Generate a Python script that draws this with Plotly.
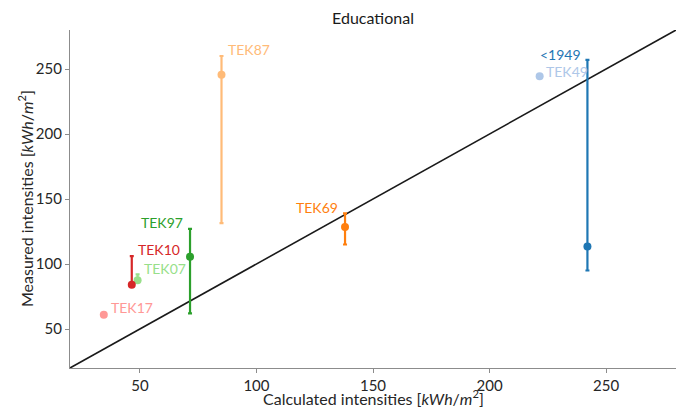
import plotly.graph_objects as go

# Building categories and their intensities (kWh/m2)
labels = ["<1949", "TEK49", "TEK69", "TEK87", "TEK97", "TEK07", "TEK10", "TEK17"]
calculated = [242, 221.5, 138, 85, 71.5, 49, 46.5, 34.5]
measured = [113.5, 244.5, 128.5, 245.5, 105.5, 87.5, 84, 61]
measured_high = [257, None, 139, 260, 127, 92, 106, None]
measured_low = [95, None, 115, 131.5, 62, 87.5, 84, None]

colors = ["#1f77b4", "#aec7e8", "#ff7f0e", "#ffbb78",
          "#2ca02c", "#98df8a", "#d62728", "#ff9896"]

# label placement relative to each marker: (xshift px, yshift px, xanchor)
label_offsets = {
    "<1949": (-49, 192, "left"),
    "TEK49": (4, 5, "left"),
    "TEK69": (-5, 19, "right"),
    "TEK87": (4, 25, "left"),
    "TEK97": (-5, 34, "right"),
    "TEK07": (4, 12, "left"),
    "TEK10": (4, 35, "left"),
    "TEK17": (5, 7, "left"),
}

FONT = "Lato, 'Open Sans', sans-serif"
fig = go.Figure()

# identity line
lim = [20, 280]
fig.add_trace(go.Scatter(x=lim, y=lim, mode="lines",
                         line=dict(color="#1a1a1a", width=1.6),
                         showlegend=False, hoverinfo="skip"))

for lab, xc, ym, hi, lo, col in zip(labels, calculated, measured,
                                    measured_high, measured_low, colors):
    err = None
    if hi is not None:
        err = dict(type="data", symmetric=False,
                   array=[hi - ym], arrayminus=[ym - lo],
                   color=col, thickness=2.2, width=2)
    fig.add_trace(go.Scatter(x=[xc], y=[ym], mode="markers",
                             marker=dict(color=col, size=8),
                             error_y=err, showlegend=False, name=lab))
    dx, dy, anchor = label_offsets[lab]
    fig.add_annotation(x=xc, y=ym, text=lab, showarrow=False,
                       xshift=dx, yshift=dy, xanchor=anchor, yanchor="middle",
                       font=dict(color=col, size=14, family=FONT))

axis_common = dict(
    showgrid=False, zeroline=False, showline=True, linecolor="#8c8c8c",
    linewidth=1.2, ticks="outside", ticklen=4, tickcolor="#8c8c8c",
    tickfont=dict(size=15, color="#262626", family=FONT),
    range=lim, tickvals=[50, 100, 150, 200, 250], mirror=False,
    automargin=False,
)

title_font = dict(size=16, color="#262626", family=FONT)

# axis titles
fig.add_annotation(text="Calculated intensities [<i>kWh</i>/<i>m</i><sup>2</sup>]",
                   xref="paper", yref="paper", x=0.5, y=0, yshift=-29,
                   xanchor="center", yanchor="middle", showarrow=False,
                   font=title_font)
fig.add_annotation(text="Measured intensities [<i>kWh</i>/<i>m</i><sup>2</sup>]",
                   xref="paper", yref="paper", x=0, y=0.5, xshift=-45,
                   xanchor="center", yanchor="middle", textangle=-90,
                   showarrow=False, font=title_font)

fig.update_layout(
    width=694, height=408,
    margin=dict(l=70, r=18, t=30, b=40),
    plot_bgcolor="white", paper_bgcolor="white",
    title=dict(text="Educational", xref="paper", x=0.5, xanchor="center",
               y=0.955, yanchor="middle",
               font=dict(size=16, color="#1a1a1a", family=FONT)),
    xaxis=axis_common,
    yaxis=axis_common,
)

fig.write_html("out.html")
